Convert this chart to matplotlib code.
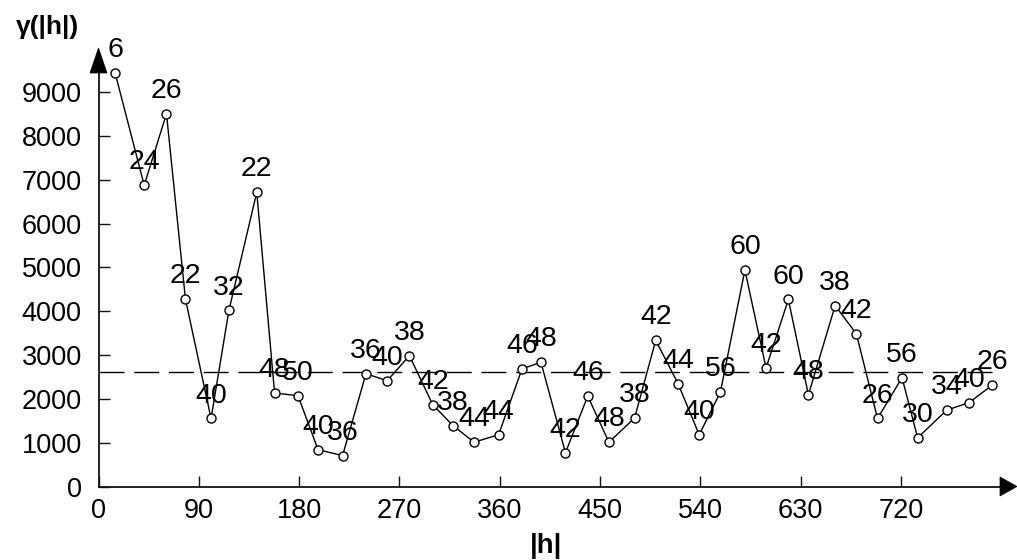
import matplotlib
matplotlib.use("Agg")
import matplotlib.pyplot as plt
from matplotlib.patches import Polygon

lags = [15, 41, 61, 78, 101, 117, 142, 158, 179, 197, 219, 240, 259, 279, 300, 318,
        337, 359, 380, 397, 419, 439, 458, 481, 500, 520, 539, 558, 580, 599, 619, 637,
        661, 680, 699, 721, 735, 761, 781, 802]
gamma = [9420, 6870, 8500, 4280, 1560, 4020, 6710, 2140, 2080, 850, 715, 2580, 2420,
         2990, 1870, 1400, 1020, 1190, 2690, 2840, 780, 2070, 1020, 1570, 3340, 2355,
         1190, 2160, 4940, 2710, 4270, 2100, 4130, 3490, 1560, 2490, 1120, 1750, 1920, 2320]
pairs = [6, 24, 26, 22, 40, 32, 22, 48, 50, 40, 36, 36, 40, 38, 42, 38, 44, 44, 46, 48,
         42, 46, 48, 38, 42, 44, 40, 56, 60, 42, 60, 48, 38, 42, 26, 56, 30, 34, 40, 26]
sill = 2620
xticks = [0, 90, 180, 270, 360, 450, 540, 630, 720]
yticks = [0, 1000, 2000, 3000, 4000, 5000, 6000, 7000, 8000, 9000]

plt.rcParams['font.family'] = ['Liberation Sans', 'DejaVu Sans']

W, H = 1017, 560
fig = plt.figure(figsize=(W / 100, H / 100), dpi=100)

x0, x1 = 98.5, 1002.0
y0, y1 = 487.0, 72.0
ax = fig.add_axes([x0 / W, 1 - y0 / H, (x1 - x0) / W, (y0 - y1) / H])
ax.set_xlim(0, 810.7)
ax.set_ylim(0, 9450)

for s in ['top', 'right']:
    ax.spines[s].set_visible(False)
for s in ['left', 'bottom']:
    ax.spines[s].set_linewidth(1.3)
    ax.spines[s].set_color('#111111')

ax.axhline(sill, color='black', lw=1.0, dashes=(18, 7))

ax.plot(lags, gamma, color='black', lw=1.0, marker='o', markersize=6.5,
        markerfacecolor='white', markeredgecolor='black', markeredgewidth=1.0,
        clip_on=False, zorder=3)

for x, y, n in zip(lags, gamma, pairs):
    ax.annotate(str(n), (x, y), xytext=(0, 16.5), textcoords='offset points',
                ha='center', va='center', fontsize=20.5, color='black',
                annotation_clip=False, zorder=4)

ax.set_xticks(xticks)
ax.set_xticklabels([str(v) for v in xticks], fontsize=19.5)
ax.set_yticks(yticks)
ax.set_yticklabels([str(v) for v in yticks], fontsize=19.5)
ax.tick_params(axis='both', direction='in', length=8, width=1.0, color='#111111')
ax.tick_params(axis='y', pad=12)
ax.tick_params(axis='x', pad=8)

# axis arrowheads
def px(xp, yp):
    return (xp / W, 1 - yp / H)

fig.patches.append(Polygon([px(98.5, 48), px(90, 73), px(107, 73)], closed=True,
                           transform=fig.transFigure, facecolor='black',
                           edgecolor='black', lw=0.5))
fig.patches.append(Polygon([px(1017, 486.5), px(1000, 477), px(1000, 496)], closed=True,
                           transform=fig.transFigure, facecolor='black',
                           edgecolor='black', lw=0.5))

fig.text(47 / W, 1 - 27 / H, 'γ(|h|)', ha='center', va='center', fontsize=19,
         fontweight='bold')
fig.text(546 / W, 1 - 546 / H, '|h|', ha='center', va='center', fontsize=20,
         fontweight='bold')

fig.savefig('out.png', dpi=100)
